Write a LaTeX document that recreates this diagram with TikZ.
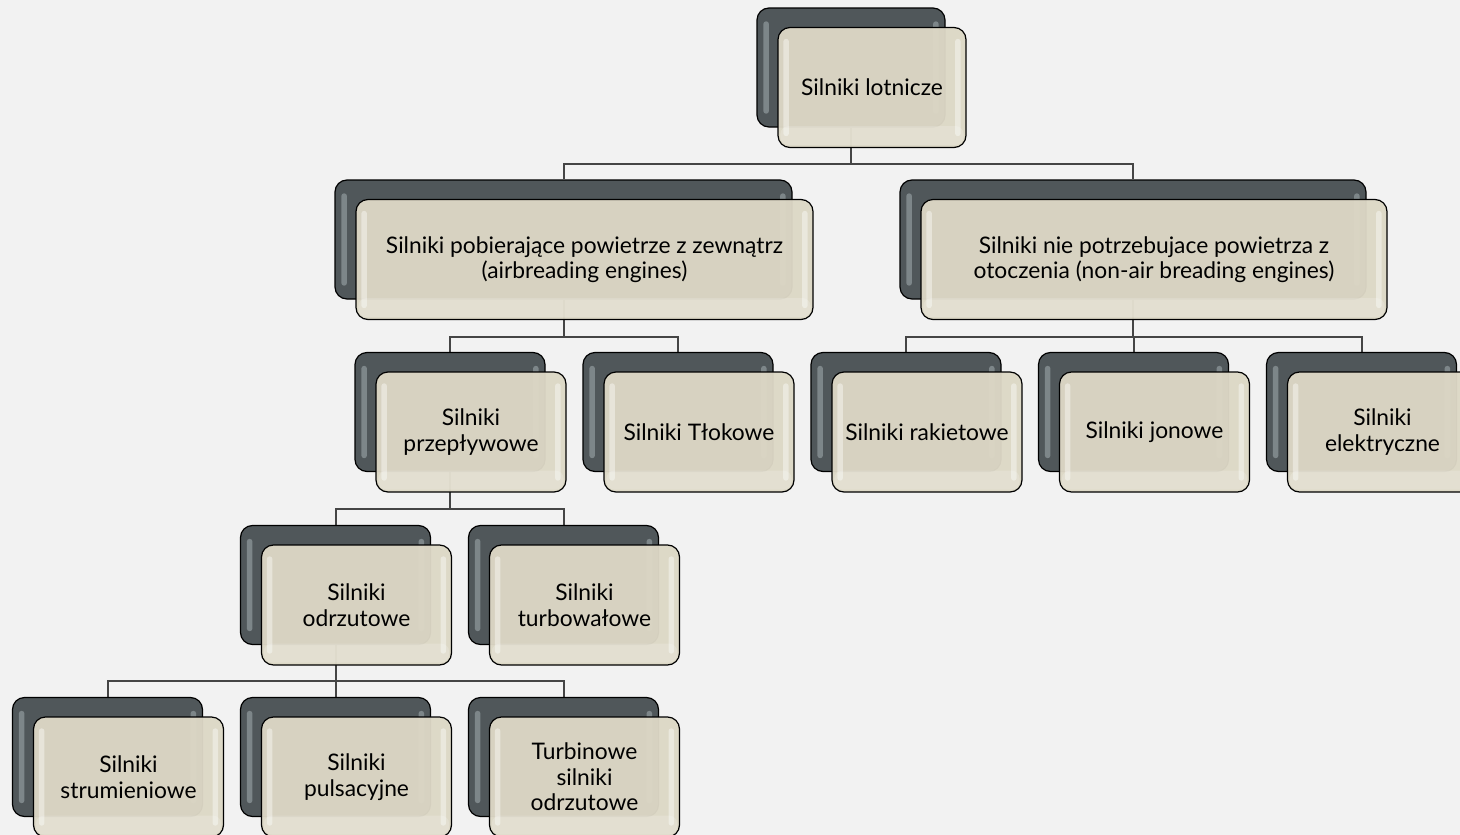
\documentclass[tikz,border=0pt]{standalone}
\usepackage{fontspec}
\setmainfont{Lato}
\usetikzlibrary{calc}
\pgfdeclarelayer{bglayer}
\pgfdeclarelayer{lines}
\pgfsetlayers{bglayer,lines,main}
\definecolor{bgcol}{HTML}{F2F2F2}
\definecolor{backfill}{HTML}{50575A}
\definecolor{backhl}{HTML}{A3ADB0}
\definecolor{frontfill}{HTML}{DDD8C6}
\definecolor{linecol}{HTML}{454545}
\tikzset{
  backbox/.style={draw=black, line width=1.2pt, fill=backfill, rounded corners=12pt, minimum height=119pt, inner sep=0pt},
  frontbox/.style={draw=black, line width=1.2pt, fill=frontfill, fill opacity=0.96, text opacity=1, rounded corners=12pt, minimum height=120pt, inner sep=0pt, align=center, font=\fontsize{22.8}{25.5}\selectfont},
  backstrip/.style={fill=backhl, opacity=0.55, rounded corners=2.5pt},
  frontstrip/.style={fill=white, opacity=0.4, rounded corners=2.5pt},
  frontband/.style={fill=white, opacity=0.18},
  conn/.style={draw=linecol, line width=2pt}
}
\newcommand{\obox}[5]{%
  \node[backbox, minimum width=#4] (#1-b) at (#2,#3) {};
  \fill[backstrip] ($(#1-b.north west)+(7,14)$) rectangle ($(#1-b.south west)+(12.5,-14)$);
  \fill[backstrip] ($(#1-b.north east)+(-12.5,14)$) rectangle ($(#1-b.south east)+(-7,-14)$);
  \node[frontbox, minimum width=#4] (#1) at ($(#1-b.center)+(21,20)$) {#5};
  \fill[frontstrip] ($(#1.north west)+(6,12)$) rectangle ($(#1.south west)+(11.5,-12)$);
  \fill[frontstrip] ($(#1.north east)+(-11.5,12)$) rectangle ($(#1.south east)+(-6,-12)$);
  \fill[frontband, rounded corners=8pt] ($(#1.south west)+(3,-22)$) rectangle ($(#1.south east)+(-3,-3)$);
}
\begin{document}
\begin{tikzpicture}[x=1pt, y=-1pt]
\begin{pgfonlayer}{bglayer}
\fill[bgcol] (0,0) rectangle (1460,835);
\end{pgfonlayer}
\useasboundingbox (0,0) rectangle (1460,835);

\obox{root}{851}{67.5}{188pt}{Silniki lotnicze}
\obox{air}{563.5}{239.5}{457pt}{Silniki pobierające powietrze z zewnątrz\\(airbreading engines)}
\obox{nonair}{1133}{239.5}{466pt}{Silniki nie potrzebujace powietrza z\\otoczenia (non-air breading engines)}
\obox{przep}{450}{412}{190pt}{Silniki\\przepływowe}
\obox{tlok}{678}{412}{190pt}{Silniki Tłokowe}
\obox{rakiet}{906}{412}{190pt}{Silniki rakietowe}
\obox{jon}{1133.5}{412}{190pt}{Silniki jonowe}
\obox{elek}{1361.5}{412}{190pt}{Silniki\\elektryczne}
\obox{odrz}{335.5}{585}{190pt}{Silniki\\odrzutowe}
\obox{turbow}{563.5}{585}{190pt}{Silniki\\turbowałowe}
\obox{strum}{107.5}{757}{190pt}{Silniki\\strumieniowe}
\obox{puls}{335.5}{757}{190pt}{Silniki\\pulsacyjne}
\obox{turbin}{563.5}{757}{190pt}{Turbinowe\\silniki\\odrzutowe}

\begin{pgfonlayer}{lines}
\draw[conn] (root-b.south) -- ++(0,36) -| (air-b.north);
\draw[conn] (root-b.south) -- ++(0,36) -| (nonair-b.north);
\draw[conn] (air-b.south) -- ++(0,37) -| (przep-b.north);
\draw[conn] (air-b.south) -- ++(0,37) -| (tlok-b.north);
\draw[conn] (nonair-b.south) -- ++(0,37) -| (rakiet-b.north);
\draw[conn] (nonair-b.south) -- ++(0,37) -| (jon-b.north);
\draw[conn] (nonair-b.south) -- ++(0,37) -| (elek-b.north);
\draw[conn] (przep-b.south) -- ++(0,37) -| (odrz-b.north);
\draw[conn] (przep-b.south) -- ++(0,37) -| (turbow-b.north);
\draw[conn] (odrz-b.south) -- ++(0,36) -| (strum-b.north);
\draw[conn] (odrz-b.south) -- ++(0,36) -| (puls-b.north);
\draw[conn] (odrz-b.south) -- ++(0,36) -| (turbin-b.north);
\end{pgfonlayer}
\end{tikzpicture}
\end{document}
